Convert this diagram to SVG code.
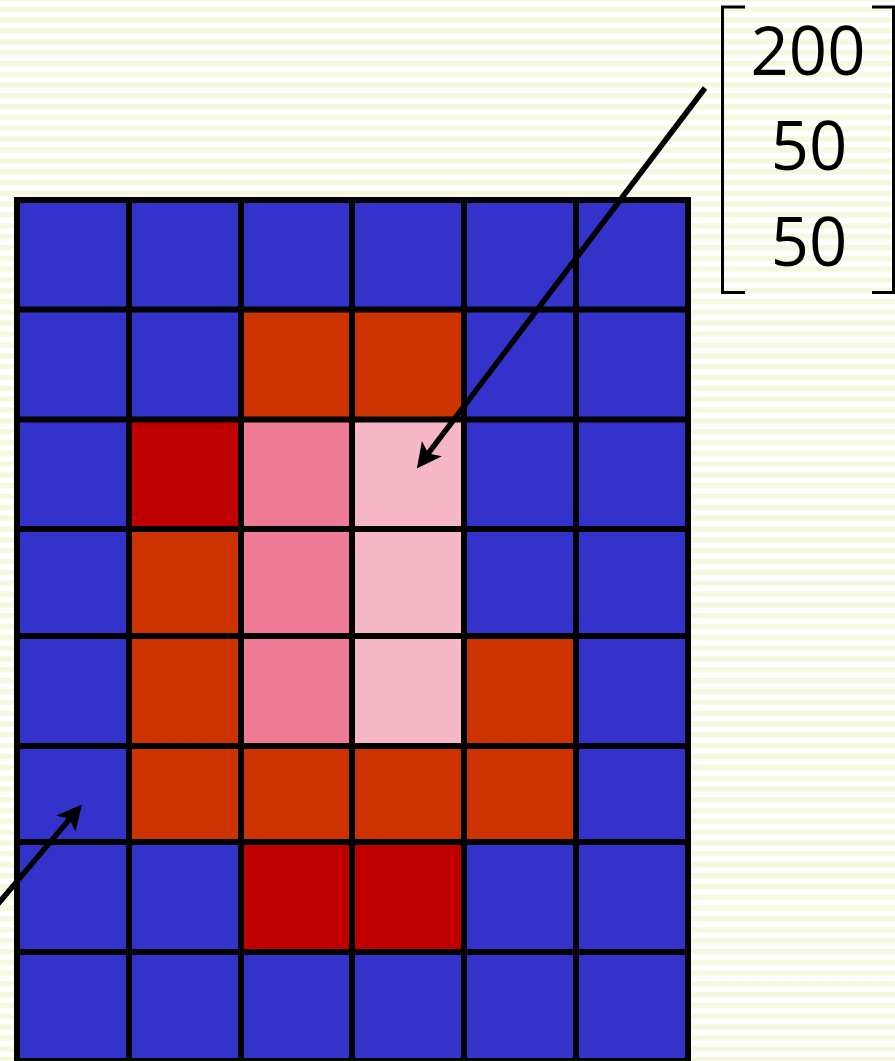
<svg xmlns="http://www.w3.org/2000/svg" width="895" height="1061" viewBox="0 0 895 1061">
<style>
.b{fill:#3333CC}.o{fill:#CC3300}.r{fill:#C00000}.p{fill:#EE7A95}.l{fill:#F6B8C7}
.grid line{stroke:#000;stroke-width:6;stroke-linecap:square}
.arrow{stroke:#000;stroke-width:5.5;fill:none;marker-end:url(#ah)}
.num{font-family:"Open Sans","Noto Sans",sans-serif;font-size:67px;fill:#000;text-anchor:middle}
.br{stroke:#000;stroke-width:3;fill:none}
</style>
<defs>
<pattern id="stripes" patternUnits="userSpaceOnUse" x="0" y="6.5" width="20" height="10.83">
<rect x="0" y="0" width="20" height="10.83" fill="#FFFFFF"/>
<rect x="0" y="0" width="20" height="5.4" fill="#F5F8DF"/>
</pattern>
<marker id="ah" markerUnits="userSpaceOnUse" markerWidth="26" markerHeight="26" viewBox="0 0 26 26" refX="6" refY="13" orient="auto" overflow="visible">
<path d="M0,0.5 L25,13 L0,25.5 L6,13 Z" fill="#000"/>
</marker>
</defs>
<rect id="background" x="0" y="0" width="895" height="1061" fill="url(#stripes)"/>
<g id="grid-cells">
<g id="row0">
<rect class="b" x="17" y="200" width="112" height="109.5"/><rect class="b" x="129" y="200" width="112" height="109.5"/><rect class="b" x="241" y="200" width="111" height="109.5"/><rect class="b" x="352" y="200" width="112" height="109.5"/><rect class="b" x="464" y="200" width="112" height="109.5"/><rect class="b" x="576" y="200" width="112" height="109.5"/>
</g>
<g id="row1">
<rect class="b" x="17" y="309.5" width="112" height="110"/><rect class="b" x="129" y="309.5" width="112" height="110"/><rect class="o" x="241" y="309.5" width="111" height="110"/><rect class="o" x="352" y="309.5" width="112" height="110"/><rect class="b" x="464" y="309.5" width="112" height="110"/><rect class="b" x="576" y="309.5" width="112" height="110"/>
</g>
<g id="row2">
<rect class="b" x="17" y="419.5" width="112" height="109.5"/><rect class="r" x="129" y="419.5" width="112" height="109.5"/><rect class="p" x="241" y="419.5" width="111" height="109.5"/><rect class="l" x="352" y="419.5" width="112" height="109.5"/><rect class="b" x="464" y="419.5" width="112" height="109.5"/><rect class="b" x="576" y="419.5" width="112" height="109.5"/>
</g>
<g id="row3">
<rect class="b" x="17" y="529" width="112" height="107"/><rect class="o" x="129" y="529" width="112" height="107"/><rect class="p" x="241" y="529" width="111" height="107"/><rect class="l" x="352" y="529" width="112" height="107"/><rect class="b" x="464" y="529" width="112" height="107"/><rect class="b" x="576" y="529" width="112" height="107"/>
</g>
<g id="row4">
<rect class="b" x="17" y="636" width="112" height="110"/><rect class="o" x="129" y="636" width="112" height="110"/><rect class="p" x="241" y="636" width="111" height="110"/><rect class="l" x="352" y="636" width="112" height="110"/><rect class="o" x="464" y="636" width="112" height="110"/><rect class="b" x="576" y="636" width="112" height="110"/>
</g>
<g id="row5">
<rect class="b" x="17" y="746" width="112" height="96"/><rect class="o" x="129" y="746" width="112" height="96"/><rect class="o" x="241" y="746" width="111" height="96"/><rect class="o" x="352" y="746" width="112" height="96"/><rect class="o" x="464" y="746" width="112" height="96"/><rect class="b" x="576" y="746" width="112" height="96"/>
</g>
<g id="row6">
<rect class="b" x="17" y="842" width="112" height="110"/><rect class="b" x="129" y="842" width="112" height="110"/><rect class="r" x="241" y="842" width="111" height="110"/><rect class="r" x="352" y="842" width="112" height="110"/><rect class="b" x="464" y="842" width="112" height="110"/><rect class="b" x="576" y="842" width="112" height="110"/>
</g>
<g id="row7">
<rect class="b" x="17" y="952" width="112" height="109"/><rect class="b" x="129" y="952" width="112" height="109"/><rect class="b" x="241" y="952" width="111" height="109"/><rect class="b" x="352" y="952" width="112" height="109"/><rect class="b" x="464" y="952" width="112" height="109"/><rect class="b" x="576" y="952" width="112" height="109"/>
</g>
</g>
<g id="grid-lines" class="grid">
<line x1="17" y1="200" x2="17" y2="1061"/><line x1="129" y1="200" x2="129" y2="1061"/><line x1="241" y1="200" x2="241" y2="1061"/><line x1="352" y1="200" x2="352" y2="1061"/><line x1="464" y1="200" x2="464" y2="1061"/><line x1="576" y1="200" x2="576" y2="1061"/><line x1="688" y1="200" x2="688" y2="1061"/>
<line x1="17" y1="200" x2="688" y2="200"/><line x1="17" y1="309.5" x2="688" y2="309.5"/><line x1="17" y1="419.5" x2="688" y2="419.5"/><line x1="17" y1="529" x2="688" y2="529"/><line x1="17" y1="636" x2="688" y2="636"/><line x1="17" y1="746" x2="688" y2="746"/><line x1="17" y1="842" x2="688" y2="842"/><line x1="17" y1="952" x2="688" y2="952"/><line x1="17" y1="1061" x2="688" y2="1061"/>
</g>
<g id="vector">
<path class="br" d="M745,7 H722.5 V292.5 H745"/>
<path class="br" d="M872,7 H893.5 V292.5 H872"/>
<text class="num" x="808" y="75">200</text>
<text class="num" x="809" y="170">50</text>
<text class="num" x="809" y="265.5">50</text>
</g>
<g id="connectors">
<path class="arrow" d="M705,88 L428.3,453.4"/>
<path class="arrow" d="M-10,913.4 L69.7,819"/>
</g>
</svg>
